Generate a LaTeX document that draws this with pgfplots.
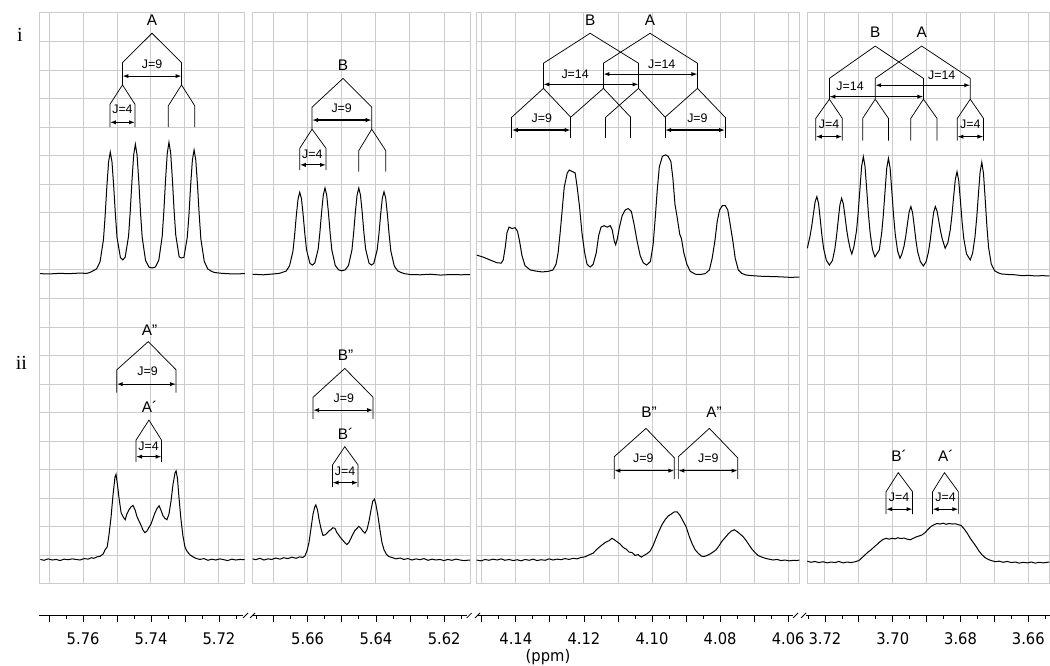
\documentclass[border=0pt]{standalone}
\usepackage{fontspec}
\setmainfont{Liberation Sans}
\newfontfamily\tickfont{DejaVu Sans}[FakeStretch=0.92]
\newfontfamily\serfont{Liberation Serif}
\usepackage{pgfplots}
\pgfplotsset{compat=1.18}
\usetikzlibrary{arrows.meta}
\pgfplotsset{
 panel/.style={scale only axis, height=428.25pt, ymin=0, ymax=20, x dir=reverse, clip=false, anchor=south west,
   axis line style={draw=black!20, line width=0.75pt}, grid=major, grid style={draw=black!20, line width=0.75pt},
   major tick length=0pt, minor tick length=0pt, ytick={0,1,...,20}, xticklabels={}, yticklabels={}},
 ruler/.style={scale only axis, height=2pt, ymin=0, ymax=1, x dir=reverse, anchor=south west,
   axis y line=none, axis x line*=bottom, axis line style={-, black, line width=0.6pt},
   tick align=outside, major tick length=4.5pt, minor tick length=2.2pt, tick style={black, line width=0.6pt},
   xticklabel style={font=\tickfont\fontsize{12}{14}\selectfont, yshift=-5pt}, ytick=\empty},
}
\tikzset{
 spec/.style={black, line width=0.75pt, mark=none},
 tree/.style={black, line width=0.55pt},
 jarr/.style={black, line width=0.85pt, {Latex[length=4.5pt,width=3.2pt]}-{Latex[length=4.5pt,width=3.2pt]}},
 lbl/.style={font=\fontsize{11.5}{13}\selectfont, inner sep=0pt},
 jl/.style={font=\fontsize{9.3}{11}\selectfont, inner sep=0pt},
}
\begin{document}
\begin{tikzpicture}
\useasboundingbox (0,0) rectangle (787.5pt,499.5pt);
% ---------------- Panel 1 ----------------
\begin{axis}[panel, at={(30pt,61.5pt)}, width=153.75pt, xmin=5.7123, xmax=5.7727, xtick={5.72,5.73,5.74,5.75,5.76,5.77}]
\addplot[spec] coordinates {(5.7727,10.87)(5.7700,10.86)(5.7670,10.88)(5.7640,10.87)(5.7610,10.89)(5.7590,10.88)(5.7580,10.91)(5.7560,11.04)(5.7550,11.29)(5.7540,12.06)(5.7535,12.91)(5.7530,13.92)(5.7525,14.77)(5.7520,15.13)(5.7515,14.80)(5.7510,13.96)(5.7505,12.97)(5.7500,12.13)(5.7490,11.43)(5.7483,11.35)(5.7476,11.45)(5.7466,12.19)(5.7461,13.07)(5.7456,14.13)(5.7451,15.03)(5.7446,15.40)(5.7441,15.03)(5.7436,14.12)(5.7431,13.04)(5.7426,12.15)(5.7416,11.33)(5.7406,11.10)(5.7397,11.07)(5.7387,11.10)(5.7377,11.34)(5.7367,12.17)(5.7362,13.07)(5.7357,14.17)(5.7352,15.09)(5.7347,15.47)(5.7342,15.10)(5.7337,14.19)(5.7332,13.10)(5.7327,12.22)(5.7317,11.46)(5.7310,11.42)(5.7303,11.44)(5.7293,12.15)(5.7288,12.95)(5.7283,13.99)(5.7278,14.85)(5.7273,15.20)(5.7268,14.85)(5.7263,13.99)(5.7258,12.95)(5.7253,12.08)(5.7243,11.30)(5.7233,11.04)(5.7223,10.96)(5.7213,10.91)(5.7190,10.88)(5.7160,10.86)(5.7123,10.87)};
\addplot[spec] coordinates {(5.7726,0.86)(5.7715,0.83)(5.7703,0.88)(5.7691,0.84)(5.7679,0.86)(5.7668,0.82)(5.7656,0.87)(5.7644,0.85)(5.7632,0.88)(5.7621,0.86)(5.7609,0.84)(5.7597,0.89)(5.7585,0.87)(5.7576,0.92)(5.7568,0.90)(5.7559,0.95)(5.7550,0.97)(5.7541,1.05)(5.7535,1.20)(5.7529,1.30)(5.7524,1.70)(5.7518,2.30)(5.7512,3.10)(5.7506,3.75)(5.7503,3.84)(5.7499,3.50)(5.7494,3.00)(5.7488,2.50)(5.7482,2.35)(5.7476,2.25)(5.7471,2.45)(5.7465,2.60)(5.7459,2.70)(5.7453,2.75)(5.7447,2.60)(5.7441,2.35)(5.7435,2.20)(5.7429,2.05)(5.7424,1.90)(5.7418,1.80)(5.7412,1.85)(5.7406,1.98)(5.7400,2.10)(5.7394,2.30)(5.7388,2.50)(5.7382,2.65)(5.7376,2.74)(5.7371,2.60)(5.7365,2.40)(5.7359,2.30)(5.7353,2.25)(5.7347,2.45)(5.7341,2.90)(5.7335,3.50)(5.7329,3.90)(5.7326,3.96)(5.7322,3.70)(5.7318,3.10)(5.7312,2.30)(5.7306,1.70)(5.7300,1.30)(5.7294,1.15)(5.7285,1.02)(5.7276,0.95)(5.7268,0.90)(5.7256,0.86)(5.7244,0.89)(5.7232,0.83)(5.7221,0.87)(5.7209,0.84)(5.7197,0.88)(5.7185,0.85)(5.7174,0.82)(5.7162,0.87)(5.7150,0.84)(5.7138,0.86)(5.7124,0.85)};
% tree i
\node[lbl] at (5.7397,19.73) {A};
\draw[tree] (5.7484,17.48) -- (5.7484,18.26) -- (5.7397,19.29) -- (5.7310,18.26) -- (5.7310,17.48);
\draw[jarr] (5.7484,17.79) -- (5.7310,17.79);
\node[jl] at (5.7397,18.22) {J=9};
\draw[tree] (5.7521,16.0) -- (5.7521,16.8) -- (5.7484,17.48) -- (5.7447,16.8) -- (5.7447,16.0);
\draw[jarr] (5.7521,16.17) -- (5.7447,16.17);
\node[jl] at (5.7484,16.64) {J=4};
\draw[tree] (5.7349,16.0) -- (5.7349,16.75) -- (5.7310,17.48) -- (5.7271,16.75) -- (5.7271,16.0);
% tree ii
\node[lbl] at (5.7404,8.9) {A”};
\draw[tree] (5.7501,6.7) -- (5.7501,7.5) -- (5.7408,8.49) -- (5.7326,7.5) -- (5.7326,6.7);
\draw[jarr] (5.7501,7.0) -- (5.7326,7.0);
\node[jl] at (5.7410,7.44) {J=9};
\node[lbl] at (5.7404,6.19) {A´};
\draw[tree] (5.7444,4.28) -- (5.7444,5.04) -- (5.7406,5.74) -- (5.7369,5.04) -- (5.7369,4.28);
\draw[jarr] (5.7444,4.46) -- (5.7369,4.46);
\node[jl] at (5.7407,4.84) {J=4};
\end{axis}
% ---------------- Panel 2 ----------------
\begin{axis}[panel, at={(189.5pt,61.5pt)}, width=163pt, xmin=5.6124, xmax=5.6761, xtick={5.62,5.63,5.64,5.65,5.66,5.67}]
\addplot[spec] coordinates {(5.6761,10.85)(5.6730,10.83)(5.6700,10.86)(5.6683,10.88)(5.6663,10.96)(5.6653,11.14)(5.6643,11.65)(5.6638,12.22)(5.6633,12.91)(5.6628,13.48)(5.6623,13.72)(5.6618,13.50)(5.6613,12.93)(5.6608,12.25)(5.6603,11.70)(5.6593,11.23)(5.6586,11.17)(5.6579,11.24)(5.6569,11.73)(5.6564,12.31)(5.6559,13.02)(5.6554,13.62)(5.6549,13.87)(5.6544,13.62)(5.6539,13.02)(5.6534,12.30)(5.6529,11.70)(5.6519,11.16)(5.6509,11.00)(5.6500,10.97)(5.6490,11.00)(5.6480,11.16)(5.6470,11.70)(5.6465,12.30)(5.6460,13.02)(5.6455,13.62)(5.6450,13.87)(5.6445,13.62)(5.6440,13.02)(5.6435,12.31)(5.6430,11.74)(5.6420,11.24)(5.6413,11.17)(5.6406,11.23)(5.6396,11.71)(5.6391,12.24)(5.6386,12.93)(5.6381,13.51)(5.6376,13.74)(5.6371,13.51)(5.6366,12.93)(5.6361,12.24)(5.6356,11.66)(5.6346,11.14)(5.6336,10.97)(5.6326,10.91)(5.6316,10.87)(5.6300,10.84)(5.6270,10.83)(5.6240,10.85)(5.6210,10.82)(5.6180,10.84)(5.6150,10.83)(5.6124,10.84)};
\addplot[spec] coordinates {(5.6761,0.88)(5.6752,0.85)(5.6740,0.90)(5.6728,0.84)(5.6716,0.88)(5.6705,0.86)(5.6693,0.91)(5.6681,0.87)(5.6670,0.92)(5.6658,0.89)(5.6646,0.94)(5.6634,0.90)(5.6623,0.95)(5.6614,0.93)(5.6608,0.98)(5.6602,1.15)(5.6596,1.45)(5.6590,1.95)(5.6584,2.45)(5.6579,2.70)(5.6576,2.77)(5.6571,2.60)(5.6567,2.30)(5.6561,1.95)(5.6555,1.70)(5.6549,1.72)(5.6543,1.78)(5.6538,1.85)(5.6532,1.90)(5.6526,1.97)(5.6520,1.95)(5.6514,1.80)(5.6508,1.70)(5.6502,1.60)(5.6496,1.52)(5.6491,1.45)(5.6485,1.38)(5.6479,1.45)(5.6473,1.60)(5.6467,1.75)(5.6461,1.88)(5.6455,1.95)(5.6450,2.02)(5.6444,1.95)(5.6438,1.85)(5.6432,1.78)(5.6426,1.90)(5.6420,2.20)(5.6414,2.60)(5.6409,2.90)(5.6404,2.97)(5.6400,2.80)(5.6394,2.40)(5.6388,1.90)(5.6382,1.45)(5.6376,1.20)(5.6369,1.04)(5.6362,0.96)(5.6353,0.93)(5.6341,0.88)(5.6329,0.91)(5.6318,0.86)(5.6306,0.89)(5.6294,0.84)(5.6282,0.88)(5.6271,0.85)(5.6259,0.89)(5.6247,0.83)(5.6235,0.87)(5.6224,0.84)(5.6212,0.86)(5.6200,0.82)(5.6189,0.86)(5.6177,0.83)(5.6165,0.87)(5.6153,0.84)(5.6142,0.82)(5.6124,0.84)};
\node[lbl] at (5.6496,18.18) {B};
\draw[tree] (5.6587,15.93) -- (5.6587,16.7) -- (5.6496,17.71) -- (5.6412,16.7) -- (5.6412,15.93);
\draw[jarr] (5.6587,16.25) -- (5.6412,16.25);
\node[jl] at (5.6500,16.66) {J=9};
\draw[tree] (5.6623,14.5) -- (5.6623,15.26) -- (5.6587,15.93) -- (5.6546,15.26) -- (5.6546,14.5);
\draw[jarr] (5.6623,14.68) -- (5.6546,14.68);
\node[jl] at (5.6586,15.06) {J=4};
\draw[tree] (5.6450,14.44) -- (5.6450,15.18) -- (5.6412,15.93) -- (5.6371,15.18) -- (5.6371,14.44);
\node[lbl] at (5.6489,8.02) {B”};
\draw[tree] (5.6584,5.78) -- (5.6584,6.54) -- (5.6491,7.55) -- (5.6408,6.54) -- (5.6408,5.78);
\draw[jarr] (5.6584,6.09) -- (5.6408,6.09);
\node[jl] at (5.6494,6.5) {J=9};
\node[lbl] at (5.6489,5.25) {B´};
\draw[tree] (5.6527,3.39) -- (5.6527,4.17) -- (5.6491,4.81) -- (5.6452,4.17) -- (5.6452,3.39);
\draw[jarr] (5.6527,3.55) -- (5.6452,3.55);
\node[jl] at (5.6490,3.93) {J=4};
\end{axis}
% ---------------- Panel 3 ----------------
\begin{axis}[panel, at={(357.5pt,61.5pt)}, width=242pt, xmin=4.0568, xmax=4.1515, xtick={4.06,4.07,4.08,4.09,4.10,4.11,4.12,4.13,4.14,4.15}]
\addplot[spec] coordinates {(4.1515,11.52)(4.1496,11.45)(4.1476,11.35)(4.1455,11.25)(4.1443,11.24)(4.1437,11.35)(4.1431,11.80)(4.1426,12.30)(4.1420,12.50)(4.1411,12.45)(4.1402,12.48)(4.1395,12.35)(4.1389,12.00)(4.1382,11.50)(4.1373,11.15)(4.1358,11.00)(4.1341,10.96)(4.1323,10.93)(4.1305,10.95)(4.1291,11.00)(4.1282,11.20)(4.1276,11.60)(4.1270,12.30)(4.1264,13.10)(4.1258,13.90)(4.1249,14.40)(4.1243,14.50)(4.1235,14.45)(4.1226,14.40)(4.1220,13.90)(4.1213,13.20)(4.1206,12.30)(4.1198,11.60)(4.1191,11.20)(4.1182,11.10)(4.1173,11.20)(4.1164,11.60)(4.1157,12.20)(4.1150,12.50)(4.1141,12.55)(4.1132,12.50)(4.1123,12.55)(4.1117,12.40)(4.1111,12.00)(4.1107,11.88)(4.1102,12.10)(4.1096,12.50)(4.1088,12.90)(4.1079,13.10)(4.1070,13.15)(4.1061,13.05)(4.1053,12.60)(4.1044,12.00)(4.1035,11.50)(4.1026,11.25)(4.1016,11.17)(4.1005,11.30)(4.0997,11.90)(4.0991,12.80)(4.0985,13.80)(4.0979,14.60)(4.0970,14.98)(4.0961,15.03)(4.0953,14.98)(4.0945,14.80)(4.0939,14.20)(4.0933,13.30)(4.0926,12.80)(4.0919,12.25)(4.0914,12.10)(4.0907,11.60)(4.0898,11.20)(4.0888,10.95)(4.0873,10.85)(4.0859,10.84)(4.0844,10.87)(4.0832,11.00)(4.0824,11.40)(4.0816,12.00)(4.0809,12.70)(4.0802,13.10)(4.0794,13.25)(4.0785,13.25)(4.0778,13.10)(4.0771,12.60)(4.0763,12.00)(4.0756,11.40)(4.0747,11.00)(4.0737,10.88)(4.0724,10.82)(4.0706,10.80)(4.0683,10.78)(4.0654,10.77)(4.0625,10.76)(4.0595,10.74)(4.0568,10.75)};
\addplot[spec] coordinates {(4.1515,0.84)(4.1502,0.81)(4.1490,0.86)(4.1479,0.83)(4.1467,0.87)(4.1455,0.84)(4.1443,0.88)(4.1432,0.83)(4.1420,0.86)(4.1408,0.82)(4.1396,0.85)(4.1385,0.81)(4.1373,0.86)(4.1361,0.83)(4.1349,0.87)(4.1338,0.82)(4.1326,0.85)(4.1314,0.83)(4.1302,0.88)(4.1291,0.84)(4.1279,0.87)(4.1267,0.85)(4.1256,0.89)(4.1244,0.86)(4.1232,0.90)(4.1220,0.88)(4.1209,0.93)(4.1197,0.95)(4.1185,1.02)(4.1173,1.08)(4.1162,1.22)(4.1150,1.34)(4.1138,1.45)(4.1126,1.52)(4.1118,1.60)(4.1112,1.56)(4.1103,1.48)(4.1094,1.40)(4.1085,1.28)(4.1076,1.22)(4.1068,1.12)(4.1059,1.10)(4.1050,1.00)(4.1041,1.03)(4.1032,0.94)(4.1024,1.00)(4.1015,1.06)(4.1006,1.15)(4.0997,1.35)(4.0988,1.62)(4.0980,1.85)(4.0971,2.08)(4.0962,2.25)(4.0953,2.38)(4.0944,2.45)(4.0936,2.52)(4.0927,2.53)(4.0918,2.40)(4.0909,2.20)(4.0900,2.00)(4.0892,1.70)(4.0883,1.42)(4.0874,1.20)(4.0865,1.08)(4.0856,0.98)(4.0848,0.96)(4.0839,1.00)(4.0830,1.05)(4.0821,1.12)(4.0812,1.20)(4.0803,1.35)(4.0795,1.50)(4.0786,1.62)(4.0777,1.75)(4.0768,1.85)(4.0759,1.90)(4.0751,1.84)(4.0742,1.75)(4.0733,1.66)(4.0724,1.52)(4.0715,1.36)(4.0707,1.22)(4.0698,1.10)(4.0689,1.00)(4.0680,0.95)(4.0668,0.90)(4.0657,0.87)(4.0645,0.84)(4.0633,0.86)(4.0622,0.82)(4.0610,0.84)(4.0598,0.81)(4.0586,0.83)(4.0575,0.82)(4.0568,0.84)};
\node[lbl] at (4.1182,19.75) {B};
\node[lbl] at (4.1006,19.75) {A};
\draw[tree] (4.1319,17.36) -- (4.1319,18.24) -- (4.1182,19.29) -- (4.1040,18.24) -- (4.1040,17.36);
\draw[tree] (4.1143,17.36) -- (4.1143,18.24) -- (4.1006,19.29) -- (4.0867,18.24) -- (4.0867,17.36);
\draw[jarr] (4.1319,17.5) -- (4.1040,17.5);
\node[jl] at (4.1226,17.86) {J=14};
\draw[jarr] (4.1143,17.86) -- (4.0867,17.86);
\node[jl] at (4.0972,18.21) {J=14};
\draw[tree] (4.1412,16.35) -- (4.1319,17.36) -- (4.1239,16.35);
\draw[tree] (4.1239,16.35) -- (4.1143,17.36) -- (4.1063,16.35);
\draw[tree] (4.1136,16.35) -- (4.1040,17.36) -- (4.0962,16.35);
\draw[tree] (4.0962,16.35) -- (4.0867,17.36) -- (4.0786,16.35);
\draw[tree] (4.1412,16.35) -- (4.1412,15.61) (4.1239,16.35) -- (4.1239,15.61) (4.1136,16.35) -- (4.1136,15.61) (4.1063,16.35) -- (4.1063,15.61) (4.0962,16.35) -- (4.0962,15.61) (4.0786,16.35) -- (4.0786,15.61);
\draw[jarr] (4.1412,15.9) -- (4.1239,15.9);
\draw[jarr] (4.0962,15.9) -- (4.0786,15.9);
\node[jl] at (4.1324,16.31) {J=9};
\node[jl] at (4.0867,16.31) {J=9};
\node[lbl] at (4.1009,6.0) {B”};
\node[lbl] at (4.0818,6.0) {A”};
\draw[tree] (4.1111,3.67) -- (4.1111,4.46) -- (4.1018,5.45) -- (4.0935,4.42) -- (4.0935,3.67);
\draw[tree] (4.0923,3.67) -- (4.0923,4.46) -- (4.0832,5.45) -- (4.0749,4.42) -- (4.0749,3.67);
\draw[jarr] (4.1111,3.97) -- (4.0935,3.97);
\draw[jarr] (4.0923,3.97) -- (4.0749,3.97);
\node[jl] at (4.1026,4.4) {J=9};
\node[jl] at (4.0835,4.4) {J=9};
\end{axis}
% ---------------- Panel 4 ----------------
\begin{axis}[panel, at={(605.5pt,61.5pt)}, width=181.5pt, xmin=3.6539, xmax=3.7252, xtick={3.66,3.67,3.68,3.69,3.70,3.71,3.72}]
\addplot[spec] coordinates {(3.7252,11.76)(3.7244,12.19)(3.7239,12.54)(3.7234,12.97)(3.7229,13.39)(3.7224,13.57)(3.7219,13.33)(3.7214,12.78)(3.7209,12.20)(3.7204,11.75)(3.7196,11.34)(3.7187,11.17)(3.7178,11.33)(3.7171,11.73)(3.7166,12.18)(3.7161,12.74)(3.7156,13.28)(3.7151,13.51)(3.7146,13.32)(3.7141,12.87)(3.7136,12.40)(3.7131,12.03)(3.7125,11.70)(3.7121,11.56)(3.7115,11.80)(3.7107,12.38)(3.7102,13.03)(3.7097,13.84)(3.7092,14.63)(3.7087,14.97)(3.7082,14.62)(3.7077,13.81)(3.7072,12.97)(3.7067,12.30)(3.7060,11.71)(3.7053,11.46)(3.7040,11.70)(3.7033,12.29)(3.7028,12.94)(3.7023,13.77)(3.7018,14.57)(3.7013,14.91)(3.7008,14.56)(3.7003,13.75)(3.6998,12.92)(3.6993,12.25)(3.6986,11.66)(3.6979,11.41)(3.6974,11.54)(3.6967,11.84)(3.6962,12.19)(3.6957,12.62)(3.6952,13.04)(3.6947,13.22)(3.6942,13.01)(3.6937,12.53)(3.6932,12.03)(3.6927,11.64)(3.6919,11.29)(3.6910,11.14)(3.6902,11.29)(3.6895,11.64)(3.6890,12.03)(3.6885,12.53)(3.6880,13.01)(3.6875,13.22)(3.6870,13.07)(3.6865,12.74)(3.6860,12.39)(3.6855,12.11)(3.6846,11.76)(3.6838,11.95)(3.6831,12.40)(3.6826,12.91)(3.6821,13.56)(3.6816,14.17)(3.6811,14.44)(3.6806,14.13)(3.6801,13.42)(3.6796,12.68)(3.6791,12.09)(3.6783,11.56)(3.6772,11.35)(3.6765,11.59)(3.6758,12.17)(3.6753,12.82)(3.6748,13.64)(3.6743,14.43)(3.6738,14.77)(3.6733,14.38)(3.6728,13.48)(3.6723,12.54)(3.6718,11.79)(3.6710,11.20)(3.6700,10.97)(3.6690,10.90)(3.6680,10.86)(3.6660,10.84)(3.6640,10.83)(3.6620,10.80)(3.6600,10.81)(3.6580,10.79)(3.6560,10.80)(3.6539,10.79)};
\addplot[spec] coordinates {(3.7252,0.80)(3.7241,0.76)(3.7230,0.79)(3.7218,0.75)(3.7206,0.78)(3.7194,0.74)(3.7182,0.77)(3.7170,0.75)(3.7159,0.79)(3.7147,0.74)(3.7135,0.77)(3.7123,0.75)(3.7111,0.78)(3.7100,0.82)(3.7091,0.92)(3.7082,1.02)(3.7073,1.12)(3.7064,1.20)(3.7055,1.30)(3.7047,1.38)(3.7038,1.48)(3.7029,1.56)(3.7020,1.60)(3.7011,1.57)(3.7002,1.60)(3.6993,1.58)(3.6985,1.62)(3.6976,1.59)(3.6967,1.61)(3.6958,1.57)(3.6949,1.55)(3.6940,1.60)(3.6931,1.65)(3.6923,1.68)(3.6914,1.72)(3.6905,1.80)(3.6896,1.92)(3.6887,2.02)(3.6878,2.08)(3.6870,2.12)(3.6861,2.10)(3.6852,2.13)(3.6843,2.09)(3.6834,2.12)(3.6825,2.10)(3.6816,2.11)(3.6808,2.08)(3.6799,2.05)(3.6790,1.93)(3.6781,1.78)(3.6772,1.60)(3.6763,1.45)(3.6754,1.30)(3.6746,1.15)(3.6737,1.02)(3.6728,0.92)(3.6719,0.86)(3.6710,0.82)(3.6698,0.78)(3.6687,0.80)(3.6675,0.76)(3.6663,0.79)(3.6651,0.75)(3.6639,0.77)(3.6628,0.73)(3.6616,0.76)(3.6604,0.74)(3.6592,0.77)(3.6580,0.73)(3.6569,0.76)(3.6557,0.74)(3.6539,0.77)};
\node[lbl] at (3.7052,19.32) {B};
\node[lbl] at (3.6915,19.32) {A};
\draw[tree] (3.7187,16.98) -- (3.7187,17.71) -- (3.7052,18.84) -- (3.6910,17.71) -- (3.6910,16.98);
\draw[tree] (3.7052,16.98) -- (3.7052,17.71) -- (3.6915,18.84) -- (3.6772,17.71) -- (3.6772,16.98);
\draw[jarr] (3.7187,17.07) -- (3.6910,17.07);
\node[jl] at (3.7126,17.44) {J=14};
\draw[jarr] (3.7052,17.47) -- (3.6772,17.47);
\node[jl] at (3.6856,17.82) {J=14};
\draw[tree] (3.7227,15.53) -- (3.7227,16.31) -- (3.7187,16.98) -- (3.7149,16.31) -- (3.7149,15.53);
\draw[tree] (3.7089,15.53) -- (3.7089,16.31) -- (3.7052,16.98) -- (3.7013,16.31) -- (3.7013,15.53);
\draw[tree] (3.6947,15.53) -- (3.6947,16.31) -- (3.6910,16.98) -- (3.6870,16.31) -- (3.6870,15.53);
\draw[tree] (3.6810,15.53) -- (3.6810,16.31) -- (3.6772,16.98) -- (3.6733,16.31) -- (3.6733,15.53);
\draw[jarr] (3.7227,15.67) -- (3.7149,15.67);
\draw[jarr] (3.6810,15.67) -- (3.6733,15.67);
\node[jl] at (3.7188,16.1) {J=4};
\node[jl] at (3.6772,16.1) {J=4};
\node[lbl] at (3.6982,4.5) {B´};
\node[lbl] at (3.6844,4.5) {A´};
\draw[tree] (3.7020,2.45) -- (3.7020,3.23) -- (3.6984,3.9) -- (3.6942,3.23) -- (3.6942,2.45);
\draw[tree] (3.6883,2.45) -- (3.6883,3.23) -- (3.6848,3.9) -- (3.6807,3.23) -- (3.6807,2.45);
\draw[jarr] (3.7020,2.62) -- (3.6942,2.62);
\draw[jarr] (3.6883,2.62) -- (3.6807,2.62);
\node[jl] at (3.6982,3.04) {J=4};
\node[jl] at (3.6845,3.04) {J=4};
\end{axis}
% ---------------- Rulers ----------------
\begin{axis}[ruler, at={(29.5pt,37.7pt)}, width=152.8pt, xmin=5.7129, xmax=5.7729,
  xtick={5.72,5.73,5.74,5.75,5.76,5.77}, xticklabels={5.72,,5.74,,5.76,},
  minor xtick={5.715,5.725,5.735,5.745,5.755,5.765}]
\end{axis}
\begin{axis}[ruler, at={(189.75pt,37.7pt)}, width=160.3pt, xmin=5.6134, xmax=5.6760,
  xtick={5.62,5.63,5.64,5.65,5.66,5.67}, xticklabels={5.62,,5.64,,5.66,},
  minor xtick={5.615,5.625,5.635,5.645,5.655,5.665,5.675}]
\end{axis}
\begin{axis}[ruler, at={(358.5pt,37.7pt)}, width=236.25pt, xmin=4.0586, xmax=4.1511,
  xtick={4.06,4.07,4.08,4.09,4.10,4.11,4.12,4.13,4.14,4.15}, xticklabels={4.06,,4.08,,4.10,,4.12,,4.14,},
  minor xtick={4.065,4.075,4.085,4.095,4.105,4.115,4.125,4.135,4.145}]
\end{axis}
\begin{axis}[ruler, at={(604.5pt,37.7pt)}, width=183pt, xmin=3.6536, xmax=3.7256,
  xtick={3.66,3.67,3.68,3.69,3.70,3.71,3.72}, xticklabels={3.66,,3.68,,3.70,,3.72},
  minor xtick={3.655,3.665,3.675,3.685,3.695,3.705,3.715,3.725}]
\end{axis}
% break marks
\draw[black, line width=0.6pt] (182.25pt,36pt) -- (186pt,39.75pt) (187.5pt,36pt) -- (191.25pt,39.75pt);
\draw[black, line width=0.6pt] (350pt,36pt) -- (353.75pt,39.75pt) (356.25pt,36pt) -- (360pt,39.75pt);
\draw[black, line width=0.6pt] (594.75pt,36pt) -- (598.5pt,39.75pt) (600.75pt,36pt) -- (604.5pt,39.75pt);
% labels
\node[anchor=base, font=\serfont\fontsize{15}{17}\selectfont, inner sep=0pt] at (15pt,468pt) {i};
\node[anchor=base, font=\serfont\fontsize{15}{17}\selectfont, inner sep=0pt] at (16pt,222pt) {ii};
\node[font=\tickfont\fontsize{12}{14}\selectfont, inner sep=0pt] at (411pt,6.5pt) {(ppm)};
\end{tikzpicture}
\end{document}
